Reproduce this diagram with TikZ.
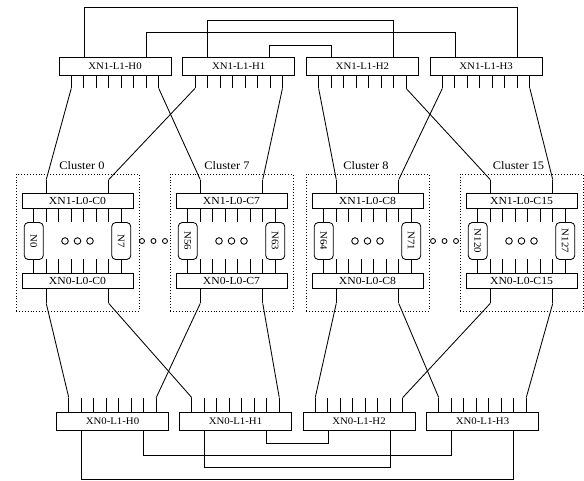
\documentclass[tikz,border=0pt]{standalone}
\usepackage{fontspec}
\setmainfont{Liberation Serif}[FakeStretch=1.08]
\usetikzlibrary{positioning, calc}

\begin{document}
\begin{tikzpicture}[x=1pt, y=-1pt, line width=0.85pt,
    hub/.style={draw, fill=white, minimum width=112pt, minimum height=18pt,
                inner sep=0pt, font=\fontsize{10}{11}\selectfont},
    leaf/.style={draw, fill=white, minimum width=111pt, minimum height=15pt,
                 inner sep=0pt, font=\fontsize{10.8}{11}\selectfont},
    pe/.style={draw, fill=white, rounded corners=4pt, rotate=-90, minimum width=37pt,
               minimum height=19pt, inner sep=0pt, font=\fontsize{10}{11}\selectfont},
    clus/.style={draw, dotted, line width=0.9pt, minimum width=123pt,
                 minimum height=137pt, inner sep=0pt},
    clabel/.style={font=\fontsize{11.5}{12}\selectfont}]
  \useasboundingbox (0,0) rectangle (584,481);

  \foreach \c/\x/\lo/\hi/\dx in {0/77.5/0/7/4.5, 7/231.5/56/63/-4.5,
                                 8/367.5/64/71/-1.5, 15/521.5/120/127/-3} {
    \node[clus] (cl\c) at (\x,242.5) {};
    \node[clabel] (lab\c) at (\x+\dx,166) {Cluster \c};
    \node[leaf] (uC\c) at (\x,200.5) {XN1-L0-C\c};
    \node[leaf] (dC\c) at (\x,280.5) {XN0-L0-C\c};
    \node[pe] (pa\c) at (\x-43.75,241) {N\lo};
    \node[pe] (pb\c) at (\x+43.75,241) {N\hi};
    \draw (uC\c.south -| pa\c.center) -- (pa\c.west);
    \draw (pa\c.east) -- (dC\c.north -| pa\c.center);
    \draw (uC\c.south -| pb\c.center) -- (pb\c.west);
    \draw (pb\c.east) -- (dC\c.north -| pb\c.center);
    \foreach \i in {1,...,6} {
      \draw ([xshift=\i*12.5-43.75]uC\c.south) -- ++(0,14);
      \draw ([xshift=\i*12.5-43.75]dC\c.north) -- ++(0,-14);
    }
    \foreach \k in {-12.5,0,12.5}
      \draw (\x+\k,241) circle (3.3);
    \draw ([xshift=-31.25]uC\c.north) -- ++(0,-13) coordinate (ul\c);
    \draw ([xshift=31.25]uC\c.north) -- ++(0,-13) coordinate (ur\c);
    \draw ([xshift=-31.25]dC\c.south) -- ++(0,15) coordinate (dl\c);
    \draw ([xshift=31.25]dC\c.south) -- ++(0,15) coordinate (dr\c);
  }
  \foreach \k in {142,153.5,165,433,444.5,456}
    \draw (\k,241) circle (2.5);

  \node[hub] (tH0) at (115,66) {XN1-L1-H0};
  \node[hub] (tH1) at (238.7,66) {XN1-L1-H1};
  \node[hub] (tH2) at (362.4,66) {XN1-L1-H2};
  \node[hub] (tH3) at (486.1,66) {XN1-L1-H3};
  \node[hub] (bH0) at (112.5,421) {XN0-L1-H0};
  \node[hub] (bH1) at (235.5,421) {XN0-L1-H1};
  \node[hub] (bH2) at (359,421) {XN0-L1-H2};
  \node[hub] (bH3) at (482.5,421) {XN0-L1-H3};

  \foreach \h in {0,...,3}
    \foreach \i in {0,...,7} {
      \draw ([xshift=\i*12.5-43.75]tH\h.south) -- ++(0,13) coordinate (tp\h-\i);
      \draw ([xshift=\i*12.5-43.75]bH\h.north) -- ++(0,-14) coordinate (bp\h-\i);
    }

  \foreach \h/\a/\b in {0/0/7, 1/0/7, 2/8/15, 3/8/15} {
    \ifodd\h
      \draw (tp\h-0) -- (ur\a);  \draw (tp\h-7) -- (ur\b);
      \draw (bp\h-0) -- (dr\a);  \draw (bp\h-7) -- (dr\b);
    \else
      \draw (tp\h-0) -- (ul\a);  \draw (tp\h-7) -- (ul\b);
      \draw (bp\h-0) -- (dl\a);  \draw (bp\h-7) -- (dl\b);
    \fi
  }

  \draw ([xshift=-31]tH0.north) -- ++(0,-49) -| ([xshift=31]tH3.north);
  \draw ([xshift=31]tH0.north) -- ++(0,-24.5) -| ([xshift=-31]tH3.north);
  \draw ([xshift=-31]tH1.north) -- ++(0,-36) -| ([xshift=31]tH2.north);
  \draw ([xshift=31]tH1.north) -- ++(0,-11) -| ([xshift=-31]tH2.north);
  \draw ([xshift=-31]bH0.south) -- ++(0,49) -| ([xshift=31]bH3.south);
  \draw ([xshift=31]bH0.south) -- ++(0,25) -| ([xshift=-31]bH3.south);
  \draw ([xshift=-31]bH1.south) -- ++(0,37) -| ([xshift=31]bH2.south);
  \draw ([xshift=31]bH1.south) -- ++(0,13) -| ([xshift=-31]bH2.south);
\end{tikzpicture}
\end{document}
